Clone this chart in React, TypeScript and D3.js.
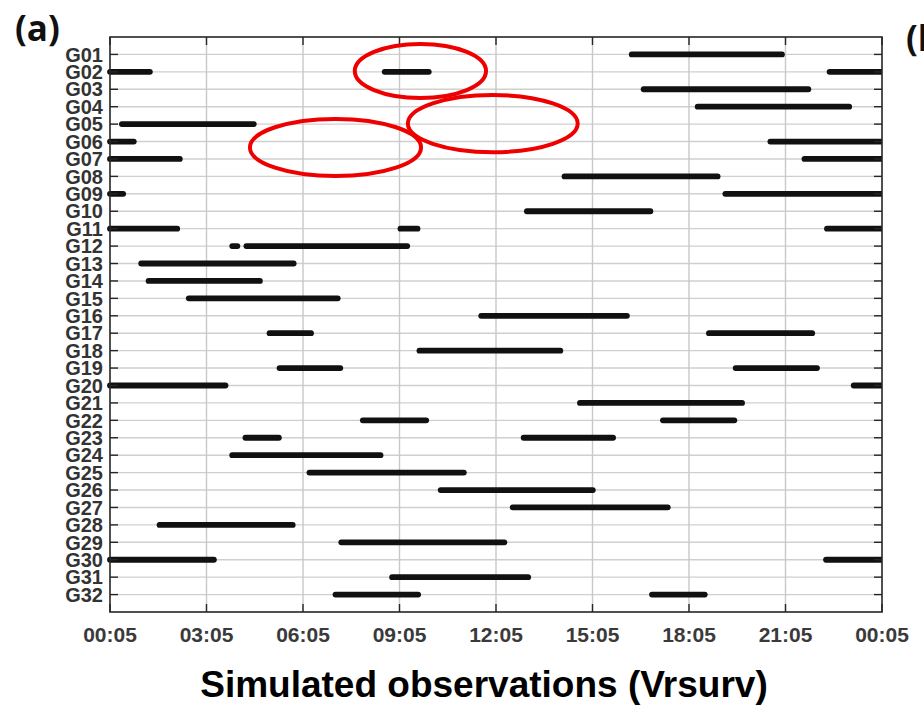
import React from "react";
import * as d3 from "d3";

const satellites = Array.from({ length: 32 }, (_, i) => `G${String(i + 1).padStart(2, "0")}`);

// visibility windows in hours after 00:05
const windows: number[][][] = [
  [[16.13, 20.98]],
  [[0, 1.33], [8.45, 10.0], [22.28, 24]],
  [[16.5, 21.8]],
  [[18.18, 23.07]],
  [[0.28, 4.56]],
  [[0, 0.83], [20.44, 24]],
  [[0, 2.26], [21.5, 24]],
  [[14.04, 18.98]],
  [[0, 0.5], [19.04, 24]],
  [[12.87, 16.89]],
  [[0, 2.18], [8.94, 9.65], [22.2, 24]],
  [[3.71, 4.05], [4.15, 9.33]],
  [[0.88, 5.8]],
  [[1.11, 4.75]],
  [[2.36, 7.17]],
  [[11.45, 16.16]],
  [[4.87, 6.34], [18.53, 21.92]],
  [[9.53, 14.09]],
  [[5.18, 7.25], [19.36, 22.07]],
  [[0, 3.68], [23.03, 24]],
  [[14.52, 19.74]],
  [[7.77, 9.92], [17.1, 19.5]],
  [[4.12, 5.34], [12.77, 15.73]],
  [[3.71, 8.5]],
  [[6.11, 11.09]],
  [[10.19, 15.1]],
  [[12.43, 17.43]],
  [[1.45, 5.77]],
  [[7.1, 12.35]],
  [[0, 3.32], [22.17, 24]],
  [[8.68, 13.09]],
  [[6.92, 9.67], [16.76, 18.58]],
];

const xTickHours = [0, 3, 6, 9, 12, 15, 18, 21, 24];
const xTickLabels = ["00:05", "03:05", "06:05", "09:05", "12:05", "15:05", "18:05", "21:05", "00:05"];

// annotation ellipses: centre (hours, row), radii (hours, rows)
const ellipseCx = [9.65, 11.9, 7.01];
const ellipseCy = [1.95, 4.97, 6.34];
const ellipseRx = [2.04, 2.64, 2.66];
const ellipseRy = [1.55, 1.64, 1.64];

const W = 924, H = 713;
const L = 110, R = 882, T = 37, B = 612;

export default function App() {
  const x = d3.scaleLinear().domain([0, 24]).range([L, R]);
  const y = d3.scaleLinear().domain([0, 33]).range([T, B]);
  const rows = d3.range(1, 33);
  const cap = 2.9;
  const tickLen = 8;
  return (
    <svg width={W} height={H} style={{ position: "absolute", left: 0, top: 0, background: "#fff" }}>
      <defs>
        <clipPath id="plotclip">
          <rect x={L - 5} y={T} width={R - L + 5} height={B - T} />
        </clipPath>
      </defs>
      {/* grid */}
      {rows.map((r) => (
        <line key={"hg" + r} x1={L} x2={R} y1={y(r)} y2={y(r)} stroke="#cfcfcf" strokeWidth={1.4} />
      ))}
      {xTickHours.slice(1, -1).map((h) => (
        <line key={"vg" + h} x1={x(h)} x2={x(h)} y1={T} y2={B} stroke="#c8c8c8" strokeWidth={1.4} />
      ))}
      {/* bars */}
      <g clipPath="url(#plotclip)">
        {windows.map((ws, i) =>
          ws.map(([s, e], j) => (
            <line
              key={`b${i}-${j}`}
              x1={s === 0 ? x(s) : x(s) + cap}
              x2={e === 24 ? x(e) + cap : x(e) - cap}
              y1={y(i + 1)}
              y2={y(i + 1)}
              stroke="#111"
              strokeWidth={5.8}
              strokeLinecap="round"
            />
          ))
        )}
      </g>
      {/* axes box */}
      <rect x={L} y={T} width={R - L} height={B - T} fill="none" stroke="#262626" strokeWidth={1.6} />
      {rows.map((r) => (
        <g key={"yt" + r}>
          <line x1={L} x2={L + tickLen} y1={y(r)} y2={y(r)} stroke="#262626" strokeWidth={1.4} />
          <line x1={R} x2={R - tickLen} y1={y(r)} y2={y(r)} stroke="#262626" strokeWidth={1.4} />
          <text
            x={L - 7}
            y={y(r)}
            dy="0.36em"
            textAnchor="end"
            fontFamily="'Liberation Sans', Arial, sans-serif"
            fontWeight="bold"
            fontSize={20}
            fill="#333"
          >
            {satellites[r - 1]}
          </text>
        </g>
      ))}
      {xTickHours.map((h, i) => (
        <g key={"xt" + i}>
          <line x1={x(h)} x2={x(h)} y1={B} y2={B - tickLen} stroke="#262626" strokeWidth={1.4} />
          <line x1={x(h)} x2={x(h)} y1={T} y2={T + tickLen} stroke="#262626" strokeWidth={1.4} />
          <text
            x={x(h)}
            y={642}
            textAnchor="middle"
            fontFamily="'Liberation Sans', Arial, sans-serif"
            fontWeight="bold"
            fontSize={21}
            fill="#3a3a3a"
          >
            {xTickLabels[i]}
          </text>
        </g>
      ))}
      {/* annotations */}
      {ellipseCx.map((cx, i) => (
        <ellipse
          key={"el" + i}
          cx={x(cx)}
          cy={y(ellipseCy[i])}
          rx={x(cx + ellipseRx[i]) - x(cx)}
          ry={y(ellipseCy[i] + ellipseRy[i]) - y(ellipseCy[i])}
          fill="none"
          stroke="#ee0000"
          strokeWidth={4}
        />
      ))}
      <text
        x={484}
        y={697}
        textAnchor="middle"
        fontFamily="'Liberation Sans', Arial, sans-serif"
        fontWeight="bold"
        fontSize={37}
        fill="#000"
      >
        Simulated observations (Vrsurv)
      </text>
      <text x={15} y={41} fontFamily="'Open Sans', sans-serif" fontWeight="bold" fontSize={35} fill="#111">
        (a)
      </text>
      <text x={906} y={51} fontFamily="'Open Sans', sans-serif" fontWeight="bold" fontSize={35} fill="#111">
        (b)
      </text>
    </svg>
  );
}
